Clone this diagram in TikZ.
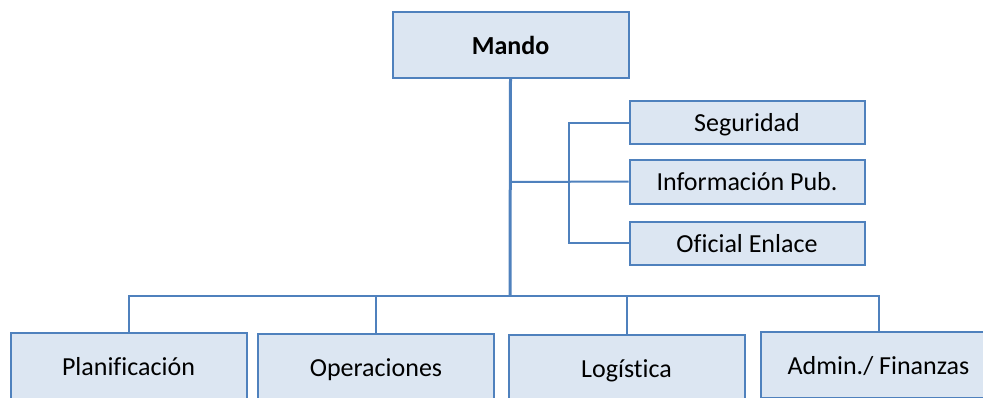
\documentclass[tikz,border=0pt]{standalone}
\usepackage{fontspec}
\setmainfont{Carlito}[Ligatures=CommonOff]
\definecolor{boxfill}{HTML}{DCE6F2}
\definecolor{boxline}{HTML}{4F81BD}
\begin{document}
\begin{tikzpicture}[x=1pt,y=-1pt,
  orgbox/.style={draw=boxline,line width=2pt,fill=boxfill,rectangle,inner sep=0pt,
    text height=18pt,text depth=0pt,
    font=\fontsize{26}{31}\selectfont},
  bigbox/.style={orgbox,minimum width=236pt,minimum height=66pt},
  sidebox/.style={orgbox,minimum width=235pt,minimum height=43pt},
  conn/.style={draw=boxline,line width=2pt},
  mainconn/.style={draw=boxline,line width=3pt}]
\useasboundingbox (0,0) rectangle (983,397);
\clip (0,0) rectangle (983,397);
\node[bigbox,font=\fontsize{26}{31}\selectfont\bfseries] (mando) at (510.5,45) {Mando};
\node[sidebox] (seg) at (747,122.5) {Seguridad};
\node[sidebox,minimum height=44pt] (info) at (747,181.5) {Información Pub.};
\node[sidebox] (ofi) at (747,243) {Oficial Enlace};
\node[bigbox] (plan) at (128.5,366) {Planificación};
\node[bigbox] (oper) at (376,367) {Operaciones};
\node[bigbox] (logi) at (626.5,368) {Logística};
\node[bigbox] (admin) at (878.5,365) {Admin./ Finanzas};
\coordinate (hub) at (510,296);
\coordinate (sidejoin) at (510,182);
\coordinate (bracket) at (569,182);
\draw[conn] (plan.north) |- (hub);
\draw[conn] (admin.north) |- (hub);
\draw[conn] (oper.north) -- (oper.north |- hub);
\draw[conn] (logi.north) -- (logi.north |- hub);
\draw[conn] (sidejoin) -- (info.west);
\draw[conn] (seg.west) -| (bracket) |- (ofi.west);
\draw[mainconn] (mando.south) -- (hub);
\end{tikzpicture}
\end{document}
